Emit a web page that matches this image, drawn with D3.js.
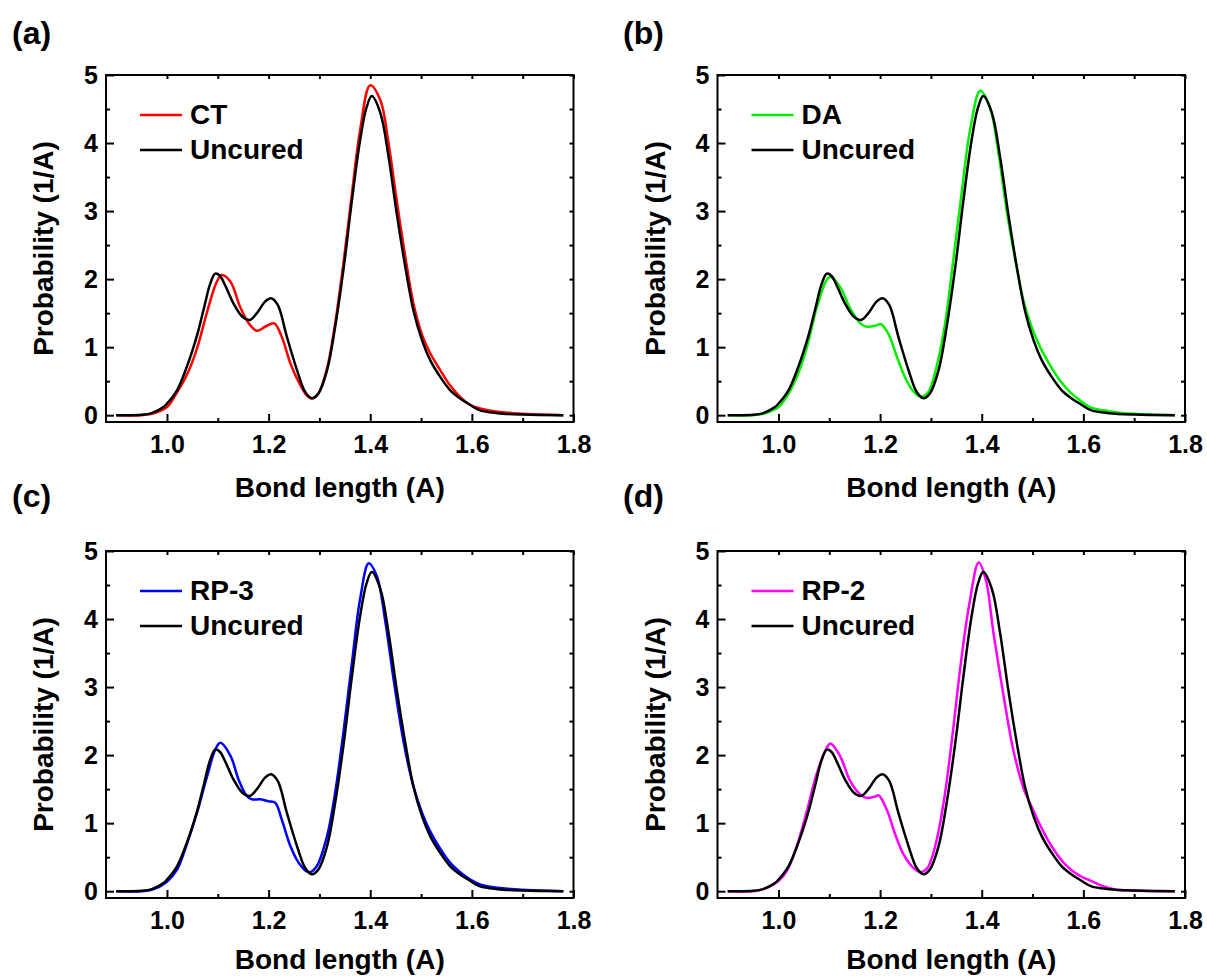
<!DOCTYPE html>
<html>
<head>
<meta charset="utf-8">
<script src="https://cdn.jsdelivr.net/npm/d3@7"></script>
<style>
  body { margin: 0; background: #fff; }
  svg { font-family: "Liberation Sans", Arial, sans-serif; font-weight: bold; }
</style>
</head>
<body>
<svg class="chart" width="1207" height="976"></svg>
<script>
// bond length (A) vs probability (1/A)
var uncured = [[0.90,0],[0.95,0.005],[0.97,0.03],[0.993,0.12],[1.0,0.17],[1.02,0.37],[1.039,0.71],[1.059,1.17],[1.072,1.55],[1.085,1.93],[1.095,2.08],[1.104,2.05],[1.115,1.90],[1.131,1.64],[1.148,1.45],[1.163,1.40],[1.177,1.50],[1.193,1.67],[1.205,1.72],[1.218,1.62],[1.236,1.15],[1.256,0.66],[1.272,0.34],[1.285,0.25],[1.298,0.32],[1.315,0.66],[1.331,1.30],[1.348,2.18],[1.364,3.16],[1.380,4.04],[1.393,4.53],[1.403,4.69],[1.420,4.44],[1.436,3.80],[1.452,2.97],[1.469,2.18],[1.485,1.54],[1.502,1.10],[1.518,0.81],[1.538,0.56],[1.557,0.37],[1.577,0.245],[1.597,0.15],[1.616,0.07],[1.65,0.03],[1.70,0.01],[1.78,0]];

var ct = [[0.90,0],[0.95,0],[0.97,0.02],[1.0,0.12],[1.016,0.29],[1.039,0.59],[1.059,0.98],[1.079,1.52],[1.098,1.96],[1.108,2.06],[1.125,1.96],[1.144,1.59],[1.161,1.35],[1.177,1.24],[1.193,1.30],[1.211,1.35],[1.226,1.15],[1.243,0.76],[1.259,0.49],[1.275,0.29],[1.285,0.245],[1.298,0.32],[1.315,0.69],[1.331,1.35],[1.348,2.28],[1.364,3.26],[1.380,4.19],[1.400,4.85],[1.420,4.63],[1.436,4.0],[1.452,3.16],[1.469,2.33],[1.485,1.64],[1.502,1.18],[1.518,0.91],[1.538,0.66],[1.557,0.44],[1.577,0.27],[1.597,0.15],[1.616,0.10],[1.65,0.05],[1.70,0.02],[1.78,0]];

var da = [[0.90,0],[0.95,0],[0.97,0.02],[1.0,0.12],[1.016,0.27],[1.036,0.56],[1.056,1.0],[1.075,1.57],[1.095,1.99],[1.102,2.03],[1.121,1.89],[1.141,1.57],[1.161,1.35],[1.174,1.30],[1.193,1.32],[1.201,1.34],[1.216,1.2],[1.233,0.86],[1.252,0.51],[1.269,0.32],[1.282,0.27],[1.295,0.34],[1.311,0.71],[1.328,1.35],[1.344,2.28],[1.361,3.3],[1.377,4.19],[1.397,4.77],[1.416,4.53],[1.433,3.85],[1.449,3.01],[1.466,2.28],[1.482,1.69],[1.498,1.30],[1.515,1.0],[1.534,0.74],[1.554,0.51],[1.574,0.34],[1.593,0.22],[1.613,0.12],[1.65,0.06],[1.70,0.02],[1.78,0]];

var rp3 = [[0.90,0],[0.95,0],[0.97,0.02],[1.0,0.14],[1.020,0.32],[1.039,0.69],[1.059,1.15],[1.079,1.69],[1.095,2.08],[1.105,2.18],[1.125,1.99],[1.141,1.64],[1.157,1.40],[1.167,1.35],[1.184,1.35],[1.2,1.32],[1.213,1.30],[1.226,1.05],[1.243,0.66],[1.259,0.42],[1.275,0.29],[1.282,0.28],[1.295,0.37],[1.315,0.81],[1.331,1.45],[1.348,2.38],[1.364,3.36],[1.380,4.29],[1.397,4.82],[1.413,4.63],[1.430,3.95],[1.446,3.11],[1.466,2.18],[1.485,1.54],[1.502,1.15],[1.518,0.88],[1.538,0.62],[1.557,0.42],[1.577,0.28],[1.597,0.17],[1.616,0.10],[1.65,0.05],[1.70,0.02],[1.78,0]];

var rp2 = [[0.90,0],[0.95,0],[0.97,0.03],[1.0,0.15],[1.016,0.29],[1.036,0.66],[1.056,1.18],[1.075,1.72],[1.092,2.06],[1.102,2.17],[1.121,1.99],[1.141,1.62],[1.161,1.42],[1.174,1.37],[1.190,1.39],[1.197,1.41],[1.213,1.2],[1.230,0.83],[1.246,0.54],[1.262,0.37],[1.279,0.28],[1.293,0.34],[1.310,0.71],[1.327,1.40],[1.343,2.33],[1.359,3.36],[1.376,4.24],[1.394,4.83],[1.408,4.58],[1.423,3.80],[1.443,2.87],[1.462,2.08],[1.482,1.52],[1.502,1.18],[1.521,0.88],[1.541,0.62],[1.561,0.42],[1.580,0.29],[1.600,0.20],[1.613,0.16],[1.63,0.10],[1.66,0.03],[1.70,0.01],[1.78,0]];

var xMajor = [1.0, 1.2, 1.4, 1.6, 1.8];
var xMinor = [1.1, 1.3, 1.5, 1.7];
var xTop = [1.0, 1.1, 1.2, 1.3, 1.4, 1.5, 1.6, 1.7, 1.8];
var yMajor = [0, 1, 2, 3, 4, 5];
var yMinor = [0.5, 1.5, 2.5, 3.5, 4.5];

var panels = [
  { tag: '(a)', name: 'CT',   color: '#ff0000', data: ct,  col: 0, row: 0 },
  { tag: '(b)', name: 'DA',   color: '#00ee00', data: da,  col: 1, row: 0 },
  { tag: '(c)', name: 'RP-3', color: '#0000ff', data: rp3, col: 0, row: 1 },
  { tag: '(d)', name: 'RP-2', color: '#ff00ff', data: rp2, col: 1, row: 1 }
];

var chart = d3.select('.chart');
var W = 467.5, H = 347;
var x = d3.scaleLinear().domain([0.88, 1.8]).range([0, W]);
var y = d3.scaleLinear().domain([-0.1, 5]).range([H, 0]);

var line = d3.line()
  .x(d => x(d[0]))
  .y(d => y(d[1]))
  .curve(d3.curveCatmullRom.alpha(0.5));

panels.forEach(p => {
  var ox = 106 + p.col * 611.5;
  var oy = 75 + p.row * 476;
  var g = chart.append('g').attr('transform', 'translate(' + ox + ',' + oy + ')');

  //panel letter
  chart.append('text')
    .attr('x', 12 + p.col * 611)
    .attr('y', 44 + p.row * 463)
    .attr('font-size', 32)
    .text(p.tag);

  //ticks, all pointing inwards
  g.append('g').attr('class', 'axis')
    .attr('transform', 'translate(0,' + H + ')')
    .call(d3.axisBottom(x).tickValues(xMajor).tickSize(-8).tickPadding(13).tickFormat(d3.format('.1f')));
  g.append('g').attr('class', 'axis')
    .attr('transform', 'translate(0,' + H + ')')
    .call(d3.axisBottom(x).tickValues(xMinor).tickSize(-4).tickFormat(''));
  g.append('g').attr('class', 'axis')
    .call(d3.axisTop(x).tickValues(xTop).tickSize(-4).tickFormat(''));
  g.append('g').attr('class', 'axis')
    .call(d3.axisLeft(y).tickValues(yMajor).tickSize(-8).tickPadding(8).tickFormat(d3.format('d')));
  g.append('g').attr('class', 'axis')
    .call(d3.axisLeft(y).tickValues(yMinor).tickSize(-4).tickFormat(''));
  g.append('g').attr('class', 'axis')
    .attr('transform', 'translate(' + W + ',0)')
    .call(d3.axisRight(y).tickValues(yMajor.concat(yMinor)).tickSize(-4).tickFormat(''));

  g.selectAll('.axis .domain').remove();
  g.selectAll('.axis line').attr('stroke', '#000').attr('stroke-width', 2);
  g.selectAll('.axis text')
    .attr('fill', '#000')
    .attr('font-size', 25)
    .attr('font-family', '"Liberation Sans", Arial, sans-serif')
    .attr('font-weight', 'bold');

  //frame
  g.append('rect')
    .attr('width', W).attr('height', H)
    .attr('fill', 'none').attr('stroke', '#000').attr('stroke-width', 2);

  //curves
  g.append('path').datum(p.data)
    .attr('d', line).attr('fill', 'none')
    .attr('stroke', p.color).attr('stroke-width', 2.5);
  g.append('path').datum(uncured)
    .attr('d', line).attr('fill', 'none')
    .attr('stroke', '#000').attr('stroke-width', 2.5);

  //legend
  var leg = [{ name: p.name, color: p.color }, { name: 'Uncured', color: '#000' }];
  leg.forEach((l, i) => {
    var ly = 40 + i * 35;
    g.append('line')
      .attr('x1', 34).attr('x2', 76)
      .attr('y1', ly).attr('y2', ly)
      .attr('stroke', l.color).attr('stroke-width', 2.5);
    g.append('text')
      .attr('x', 84).attr('y', ly + 9)
      .attr('font-size', 28)
      .text(l.name);
  });

  //axis titles
  g.append('text')
    .attr('x', W / 2).attr('y', H + (p.row ? 71 : 75))
    .attr('text-anchor', 'middle')
    .attr('font-size', 28)
    .text('Bond length (A)');
  g.append('text')
    .attr('transform', 'translate(-53,' + (H / 2) + ') rotate(-90)')
    .attr('text-anchor', 'middle')
    .attr('font-size', 28)
    .text('Probability (1/A)');
});
</script>
</body>
</html>
